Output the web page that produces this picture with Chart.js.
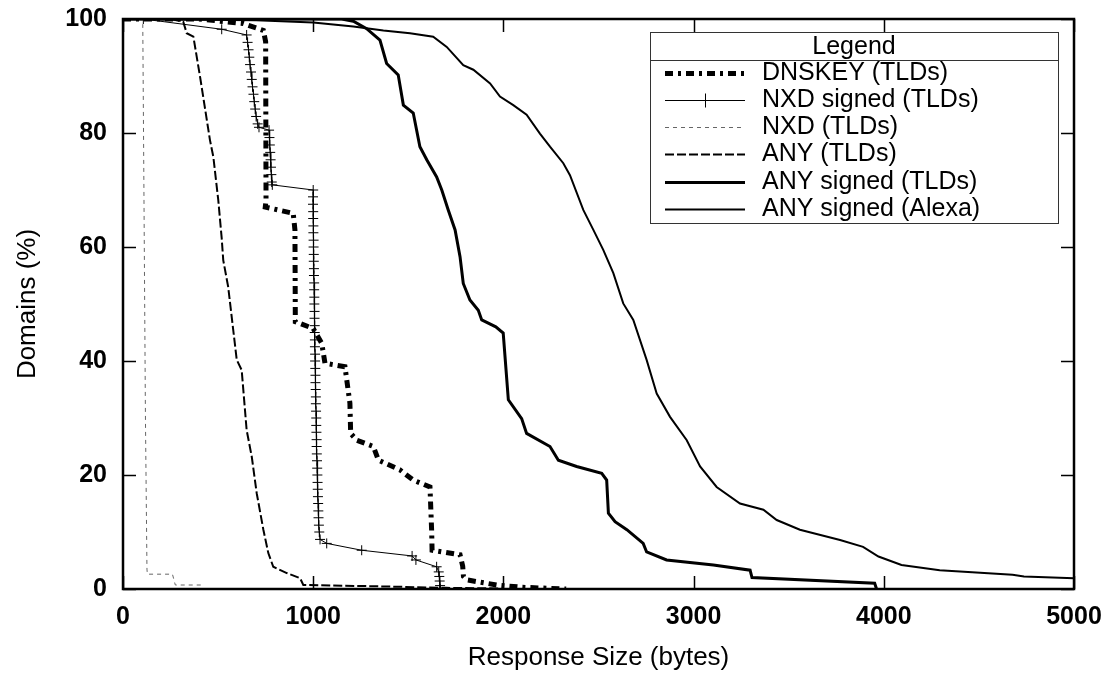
<!DOCTYPE html>
<html>
<head>
<meta charset="utf-8">
<title>Response size distribution</title>
<script src="https://cdn.jsdelivr.net/npm/chart.js@4.4.1/dist/chart.umd.min.js"></script>
<style>
    body { margin: 0; background: #fff; }
</style>
</head>
<body>
<canvas id="sizeChart" width="1105" height="674"></canvas>
<script>
const seriesLabels = ['DNSKEY (TLDs)', 'NXD signed (TLDs)', 'NXD (TLDs)', 'ANY (TLDs)', 'ANY signed (TLDs)', 'ANY signed (Alexa)'];
const xTicks = [0, 1000, 2000, 3000, 4000, 5000];
const yTicks = [0, 20, 40, 60, 80, 100];

// values: x = response size (bytes), y = domains (%)
const dnskeyX = [0, 400, 632, 738, 750, 752, 748, 895, 904, 906, 1000, 1045, 1062, 1167, 1193, 1197, 1229, 1316, 1343, 1456, 1526, 1614, 1623, 1625, 1772, 1786, 1790, 1807, 1965, 2100, 2330];
const dnskeyY = [100, 100, 99.2, 98, 96, 68.2, 67, 65.9, 63, 46.9, 45.7, 43.1, 39.6, 39, 32.6, 27.3, 26.1, 25, 22.6, 20.9, 19.1, 17.9, 10, 6.8, 6, 4, 2.2, 1.6, 0.7, 0.3, 0];

const nxdSignedX = [0, 107, 519, 650, 655, 660, 664, 668, 673, 677, 681, 686, 690, 695, 700, 708, 715,
    768, 770, 772, 774, 776, 778, 780, 782, 785, 1000,
    999, 999, 1000, 1000, 1001, 1001, 1002, 1002, 1003, 1003, 1004, 1004, 1005, 1005, 1006, 1006, 1007, 1007, 1008, 1008,
    1009, 1009, 1010, 1010, 1011, 1012, 1012, 1013, 1014, 1014, 1015, 1016, 1016, 1017, 1018, 1018, 1019, 1020, 1021, 1022,
    1023, 1024, 1025, 1026, 1027, 1028, 1030, 1032, 1036,
    1071, 1255, 1520, 1540, 1649, 1660, 1663, 1665, 1667, 1667];
const nxdSignedY = [100, 100, 98.2, 97.2, 95.9, 94.6, 93.3, 92.0, 90.7, 89.4, 88.1, 86.8, 85.5, 84.2, 82.9, 81.6, 81.0,
    80.5, 79.2, 77.9, 76.6, 75.3, 74.0, 72.7, 71.4, 70.9, 70.0,
    68.8, 67.5, 66.2, 65.0, 63.7, 62.5, 61.2, 60.0, 58.7, 57.5, 56.2, 55.0, 53.7, 52.5, 51.2, 50.0, 48.7, 47.5, 46.2, 45.0,
    43.7, 42.5, 41.2, 40.0, 38.7, 37.5, 36.2, 35.0, 33.7, 32.5, 31.2, 30.0, 28.7, 27.5, 26.2, 25.0, 23.7, 22.5, 21.2, 20.0,
    18.7, 17.5, 16.2, 15.0, 13.7, 12.5, 11.2, 10.0, 8.7,
    8.0, 6.8, 5.8, 5.1, 3.9, 3.0, 2.2, 1.4, 0.6, 0];

const nxdX = [0, 100, 104, 110, 118, 126, 128, 260, 275, 415];
const nxdY = [100, 100, 99, 70, 30, 3.5, 2.6, 2.6, 0.7, 0.7];

const anyX = [0, 250, 317, 335, 370, 405, 457, 475, 501, 519, 527, 553, 598, 624, 650, 677, 703, 738, 764, 790, 861, 931, 948, 1300, 1700, 1980];
const anyY = [100, 100, 99.5, 97.5, 96.9, 89.9, 78.8, 75.8, 68.2, 61.5, 57.7, 53, 40.2, 38.4, 27.9, 23.2, 16.8, 10.4, 6.3, 3.9, 2.8, 1.9, 0.7, 0.5, 0.2, 0.1];

const anySignedX = [0, 1150, 1211, 1281, 1351, 1386, 1447, 1474, 1526, 1561, 1597, 1649, 1676, 1710, 1746, 1772, 1789, 1824, 1868, 1886, 1960, 1999, 2026, 2096, 2122, 2245, 2289, 2385, 2517, 2543, 2552, 2587, 2649, 2735, 2753, 2858, 3104, 3297, 3307, 3952, 3962];
const anySignedY = [100, 100, 99.6, 98.3, 96.3, 92.2, 90.2, 84.9, 83.5, 77.6, 75.3, 72.3, 70, 66.5, 63, 58.3, 53.6, 50.7, 48.9, 47.2, 46, 44.9, 33.2, 29.9, 27.3, 25, 22.6, 21.5, 20.3, 19.1, 13.3, 11.8, 10.4, 8, 6.5, 5.1, 4.2, 3.3, 2.0, 1.0, 0];

const alexaX = [0, 700, 1000, 1211, 1369, 1509, 1631, 1702, 1789, 1842, 1930, 1982, 2052, 2122, 2192, 2245, 2315, 2350, 2420, 2473, 2525, 2578, 2630, 2683, 2753, 2806, 2876, 2964, 3034, 3121, 3244, 3367, 3437, 3559, 3770, 3891, 3972, 4093, 4294, 4677, 4737, 5000];
const alexaY = [100, 99.8, 99.4, 98.7, 98.0, 97.5, 96.9, 95.1, 91.9, 91.1, 88.7, 86.4, 84.9, 83.2, 79.9, 77.6, 74.7, 72.6, 66.5, 63, 59.5, 55.4, 50.1, 47.2, 40.2, 34.3, 30.2, 26.1, 21.5, 17.9, 15, 13.9, 12.1, 10.4, 8.6, 7.4, 5.7, 4.2, 3.3, 2.5, 2.2, 1.9];

function toPoints(xs, ys) {
    return xs.map((x, i) => ({ x: x, y: ys[i] }));
}

Chart.defaults.font.family = '"Liberation Sans", Arial, sans-serif';
Chart.defaults.color = '#000';

// fixed axis boxes so the plot area lands where the original has it
function fixBox(size, dim) {
    return scale => {
        scale[dim] = size;
        scale.paddingLeft = scale.paddingRight = scale.paddingTop = scale.paddingBottom = 0;
    };
}

// gnuplot style border with inward ticks on all four sides
const framePlugin = {
    id: 'frame',
    afterDatasetsDraw(chart) {
        const { ctx, chartArea: a, scales } = chart;
        ctx.save();
        ctx.strokeStyle = '#000';
        ctx.setLineDash([]);
        ctx.lineWidth = 1.5;
        const len = 13;
        xTicks.forEach(v => {
            const px = Math.round(scales.x.getPixelForValue(v)) + 0.5;
            ctx.beginPath();
            ctx.moveTo(px, a.bottom); ctx.lineTo(px, a.bottom - len);
            ctx.moveTo(px, a.top); ctx.lineTo(px, a.top + len);
            ctx.stroke();
        });
        yTicks.forEach(v => {
            const py = Math.round(scales.y.getPixelForValue(v)) + 0.5;
            ctx.beginPath();
            ctx.moveTo(a.left, py); ctx.lineTo(a.left + len, py);
            ctx.moveTo(a.right, py); ctx.lineTo(a.right - len, py);
            ctx.stroke();
        });
        ctx.lineWidth = 2.5;
        ctx.strokeRect(a.left, a.top, a.right - a.left, a.bottom - a.top);
        ctx.restore();
    }
};

const legendPlugin = {
    id: 'boxLegend',
    afterDraw(chart) {
        const ctx = chart.ctx;
        const box = { left: 650, top: 32, right: 1058, bottom: 223, titleBottom: 60 };
        const rowY0 = 72.5, rowStep = 27.3;
        ctx.save();
        ctx.fillStyle = '#fff';
        ctx.fillRect(box.left, box.top, box.right - box.left, box.bottom - box.top);
        ctx.strokeStyle = '#333';
        ctx.lineWidth = 1;
        ctx.setLineDash([]);
        ctx.strokeRect(box.left + 0.5, box.top + 0.5, box.right - box.left, box.bottom - box.top);
        ctx.beginPath();
        ctx.moveTo(box.left, box.titleBottom + 0.5);
        ctx.lineTo(box.right, box.titleBottom + 0.5);
        ctx.stroke();

        ctx.fillStyle = '#000';
        ctx.font = '25px "Liberation Sans", Arial, sans-serif';
        ctx.textAlign = 'center';
        ctx.textBaseline = 'middle';
        ctx.fillText('Legend', (box.left + box.right) / 2, 47);

        chart.data.datasets.forEach((ds, i) => {
            const y = Math.round(rowY0 + i * rowStep) + 0.5;
            ctx.save();
            ctx.strokeStyle = ds.borderColor;
            ctx.lineWidth = ds.borderWidth;
            ctx.lineCap = 'butt';
            ctx.setLineDash(ds.borderDash || []);
            ctx.beginPath();
            ctx.moveTo(665, y);
            ctx.lineTo(745, y);
            ctx.stroke();
            if (ds.pointStyle === 'cross') {
                ctx.setLineDash([]);
                ctx.lineWidth = 1;
                ctx.beginPath();
                ctx.moveTo(705.5, y - 7); ctx.lineTo(705.5, y + 7);
                ctx.moveTo(698, y); ctx.lineTo(713, y);
                ctx.stroke();
            }
            ctx.restore();
            ctx.fillStyle = '#000';
            ctx.textAlign = 'left';
            ctx.fillText(ds.label, 762, y);
        });
        ctx.restore();
    }
};

const ctx = document.getElementById('sizeChart').getContext('2d');
new Chart(ctx, {
    type: 'scatter',
    data: {
        datasets: [
            { label: seriesLabels[0], data: toPoints(dnskeyX, dnskeyY), showLine: true, borderColor: '#000', borderWidth: 5, borderDash: [8, 5, 3, 5], borderCapStyle: 'butt', pointRadius: 0 },
            { label: seriesLabels[1], data: toPoints(nxdSignedX, nxdSignedY), showLine: true, borderColor: '#000', borderWidth: 1, pointStyle: 'cross', pointRadius: 5, pointBorderWidth: 1, pointBorderColor: '#000', pointBackgroundColor: '#000' },
            { label: seriesLabels[2], data: toPoints(nxdX, nxdY), showLine: true, borderColor: '#666', borderWidth: 1, borderDash: [4, 4], pointRadius: 0 },
            { label: seriesLabels[3], data: toPoints(anyX, anyY), showLine: true, borderColor: '#000', borderWidth: 2, borderDash: [9, 3], pointRadius: 0 },
            { label: seriesLabels[4], data: toPoints(anySignedX, anySignedY), showLine: true, borderColor: '#000', borderWidth: 3, pointRadius: 0 },
            { label: seriesLabels[5], data: toPoints(alexaX, alexaY), showLine: true, borderColor: '#000', borderWidth: 2, pointRadius: 0 }
        ]
    },
    options: {
        responsive: false,
        animation: false,
        events: [],
        layout: { padding: { top: 19, right: 31, left: 0, bottom: 0 } },
        plugins: { legend: { display: false }, tooltip: { enabled: false } },
        scales: {
            x: {
                type: 'linear', min: 0, max: 5000,
                afterFit: fixBox(85, 'height'),
                afterBuildTicks: scale => { scale.ticks = xTicks.map(v => ({ value: v })); },
                grid: { display: false, drawTicks: false },
                border: { display: false },
                ticks: { font: { size: 25, weight: 'bold' }, padding: 13, maxRotation: 0, callback: v => String(v) },
                title: { display: true, text: 'Response Size (bytes)', font: { size: 26 }, padding: { top: 0, bottom: 1 } }
            },
            y: {
                min: 0, max: 100,
                afterFit: fixBox(123, 'width'),
                afterBuildTicks: scale => { scale.ticks = yTicks.map(v => ({ value: v })); },
                grid: { display: false, drawTicks: false },
                border: { display: false },
                ticks: { font: { size: 25, weight: 'bold' }, padding: 16, callback: v => String(v) },
                title: { display: true, text: 'Domains (%)', font: { size: 26 }, padding: { top: 12, bottom: 0 } }
            }
        }
    },
    plugins: [framePlugin, legendPlugin]
});
</script>
</body>
</html>
